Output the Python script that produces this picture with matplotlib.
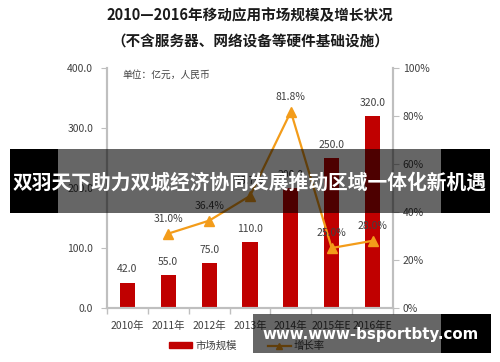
#!/usr/bin/env python3

import numpy
import matplotlib
matplotlib.use("Agg")
import matplotlib.pyplot as plt
from matplotlib.patches import Rectangle, Patch
from matplotlib.lines import Line2D

plt.rcParams["font.family"] = ["Noto Sans CJK SC", "DejaVu Sans"]

## DATA

years = ["2010年", "2011年", "2012年", "2013年", "2014年", "2015年E", "2016年E"]
market = [42.0, 55.0, 75.0, 110.0, 200.0, 250.0, 320.0]
growth_years = years[1:]
growth = [31.0, 36.4, 46.7, 81.8, 25.0, 28.0]

left_ticks = [0, 100, 200, 300, 400]
right_ticks = [0, 20, 40, 60, 80, 100]

BAR_RED = "#C00000"
LINE_ORANGE = "#F39C1A"
SPINE_GRAY = "#BFBFBF"
TEXT = "#404040"

## PLOT

W, H = 500, 362
fig = plt.figure(figsize = (W / 100, H / 100), dpi = 100)
ax = fig.add_axes([107 / W, 1 - 308 / H, 286 / W, 240 / H])
ax2 = ax.twinx()

xs = numpy.arange(len(years))
ax.bar(xs, market, width = 0.37, color = BAR_RED, zorder = 2)
for x, v in zip(xs, market):
	ax.annotate(f"{v:.1f}", (x, v), xytext = (0, 6), textcoords = "offset points",
		ha = "center", va = "bottom", fontsize = 7.5, color = TEXT)

gx = xs[1:]
ax2.plot(gx, growth, "-", color = LINE_ORANGE, lw = 1.6, marker = "^", markersize = 7, zorder = 3)
for x, v in zip(gx, growth):
	ax2.annotate(f"{v:.1f}%", (x, v), xytext = (0, 7), textcoords = "offset points",
		ha = "center", va = "bottom", fontsize = 7.5, color = TEXT)

ax.set_xlim(-0.5, len(years) - 0.5)
ax.set_ylim(0, 400)
ax2.set_ylim(0, 100)

ax.set_yticks(left_ticks)
ax.set_yticklabels([f"{t:.1f}" for t in left_ticks], fontsize = 7.5, color = TEXT)
ax2.set_yticks(right_ticks)
ax2.set_yticklabels([f"{t}%" for t in right_ticks], fontsize = 7.5, color = TEXT)

ax.set_xticks(xs)
ax.set_xticklabels(years, fontsize = 7.5, color = TEXT)
ax.set_xticks(numpy.arange(-0.5, len(years)), minor = True)
ax.tick_params(axis = "x", which = "major", length = 0, pad = 9)
ax.tick_params(axis = "x", which = "minor", length = 4, color = SPINE_GRAY, width = 1)
ax.tick_params(axis = "y", length = 4, color = SPINE_GRAY, pad = 6)
ax2.tick_params(axis = "y", length = 4, color = SPINE_GRAY, pad = 3)

for a in (ax, ax2):
	a.spines["top"].set_visible(False)
	for side in ("left", "right", "bottom"):
		a.spines[side].set_color(SPINE_GRAY)
		a.spines[side].set_linewidth(1.5)

ax.text(122 / W, 1 - 75 / H, "单位：亿元，人民币", transform = fig.transFigure,
	fontsize = 7, color = TEXT, va = "center")

fig.text(0.5, 1 - 15 / H, "2010—2016年移动应用市场规模及增长状况",
	ha = "center", va = "center", fontsize = 10.5, fontweight = "bold", color = "#1a1a1a")
fig.text(0.5, 1 - 42 / H, "（不含服务器、网络设备等硬件基础设施）",
	ha = "center", va = "center", fontsize = 10.5, fontweight = "bold", color = "#1a1a1a")

handles = [
	Patch(color = BAR_RED, label = "市场规模"),
	Line2D([], [], color = LINE_ORANGE, lw = 1.6, marker = "^", markersize = 5, label = "增长率"),
]
fig.legend(handles = handles, loc = "center", bbox_to_anchor = (247 / W, 1 - 346 / H),
	ncol = 2, frameon = False, fontsize = 7.5, handlelength = 2.2, handleheight = 0.5,
	columnspacing = 3.0, handletextpad = 0.3, labelcolor = TEXT)

## OVERLAYS

def _box(x0, x1, y0, y1, color, alpha):
	fig.add_artist(Rectangle((x0 / W, 1 - y1 / H), (x1 - x0) / W, (y1 - y0) / H,
		transform = fig.transFigure, facecolor = color, alpha = alpha,
		edgecolor = "none", zorder = 10))

_box(10, 58, 149, 213, "black", 1.0)
_box(58, 441, 149, 213, "black", 0.6)
_box(441, 490, 149, 213, "black", 1.0)
fig.text(250 / W, 1 - 183 / H, "双羽天下助力双城经济协同发展推动区域一体化新机遇",
	ha = "center", va = "center", fontsize = 14.2, fontweight = "bold", color = "white", zorder = 11)

_box(253, 441, 314, 353, "black", 0.6)
_box(441, 491, 314, 353, "black", 1.0)
fig.text(371 / W, 1 - 335 / H, "www.www-bsportbty.com", family = ["DejaVu Sans"],
	ha = "center", va = "center", fontsize = 10.8, fontweight = "bold", color = "white", zorder = 11)

fig.savefig("out.png", dpi = 100)
